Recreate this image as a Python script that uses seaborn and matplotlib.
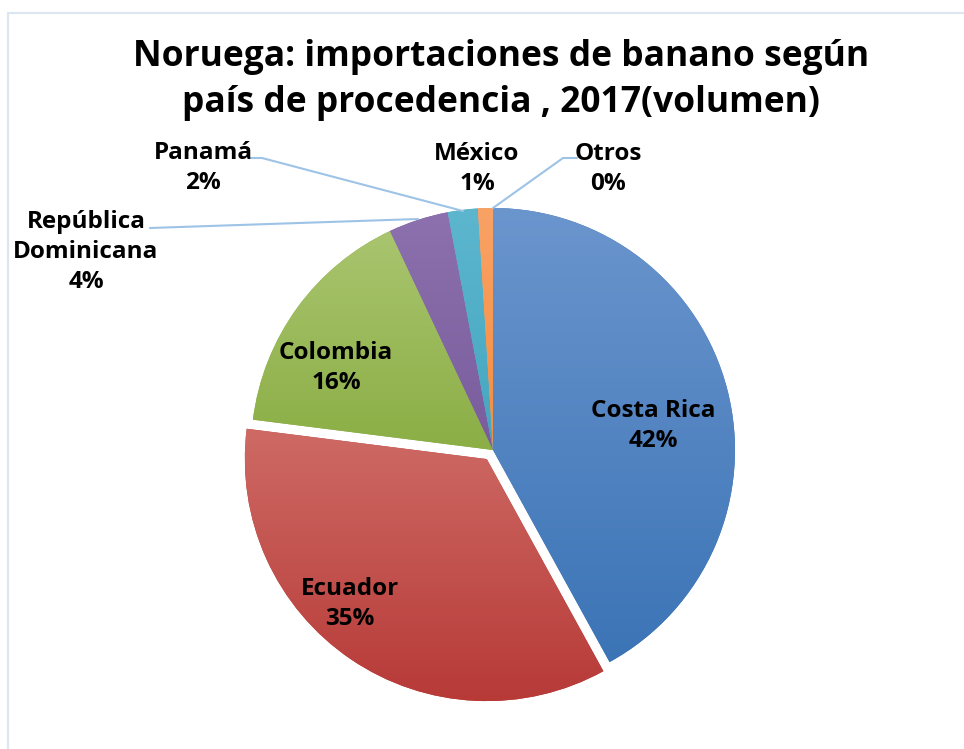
import numpy as np
import matplotlib
matplotlib.use("Agg")
import matplotlib.pyplot as plt
import seaborn as sns
from matplotlib.patches import Rectangle

sns.set_theme(style="white")
plt.rcParams['font.family'] = ['Open Sans', 'DejaVu Sans']

# data
paises = ["Costa Rica", "Ecuador", "Colombia", "República\nDominicana",
          "Panamá", "México", "Otros"]
porcentajes = [42, 35, 16, 4, 2, 1, 0]
colores_top = ["#6B95CD", "#CE6A65", "#A9C56F", "#8C71AE", "#5CB6CE", "#F9A266", "#2C4D75"]
colores_bot = ["#3B74B6", "#B73A37", "#8BAE45", "#7A5C9C", "#45A6C0", "#F58D3E", "#2C4D75"]

W, H = 964, 749
fig = plt.figure(figsize=(W / 100, H / 100), dpi=100)
ax = fig.add_axes([0, 0, 1, 1])
ax.set_xlim(0, W)
ax.set_ylim(0, H)
ax.axis("off")

def py(y):
    # pixel row (from top) -> axes y
    return H - y

# chart area border
ax.add_patch(Rectangle((8, py(760)), 980, 760 - 13, fill=False,
                       edgecolor="#DCE6F2", lw=1.5))

# explode is in data units here (center/radius given in pixels)
explode = [0, 11, 0, 0, 0, 0, 0]
wedges, _ = ax.pie(porcentajes, colors=colores_bot, startangle=90, counterclock=False,
                   center=(493, py(450)), radius=242, explode=explode,
                   wedgeprops=dict(linewidth=0))

# vertical gradient (lighter on top) like the original
for w, ct, cb in zip(wedges, colores_top, colores_bot):
    bb = w.get_path().get_extents(w.get_patch_transform())
    c1 = np.array(matplotlib.colors.to_rgb(ct))
    c2 = np.array(matplotlib.colors.to_rgb(cb))
    t = np.linspace(0, 1, 256)[:, None]
    img = (c1 * (1 - t) + c2 * t)[:, None, :]
    im = ax.imshow(img, extent=[bb.x0, bb.x1, bb.y0, bb.y1], origin="upper",
                   aspect="auto", zorder=w.get_zorder() + 0.1)
    im.set_clip_path(w)
ax.set_xlim(0, W)
ax.set_ylim(0, H)

kw = dict(ha="center", va="center", fontsize=17.5, fontweight="bold",
          color="black", linespacing=1.33)

# data labels
pos = {
    "Costa Rica": (653, 426),
    "Ecuador": (350, 604),
    "Colombia": (336, 368),
    "República\nDominicana": (86, 252),
    "Panamá": (203, 168),
    "México": (477, 169),
    "Otros": (608, 169),
}
for p, v in zip(paises, porcentajes):
    x, y = pos[p]
    ax.text(x, py(y), f"{p}\n{v}%", zorder=5, **kw)

# leader lines
lc = "#9DC3E6"
ax.plot([250, 262, 463], [py(158), py(158), py(211)], color=lc, lw=1.5, zorder=4)
ax.plot([150, 418], [py(228), py(219)], color=lc, lw=1.5, zorder=4)
ax.plot([577, 563, 493], [py(158), py(158), py(208)], color=lc, lw=1.5, zorder=4)

ax.text(501, py(80), "Noruega: importaciones de banano según\npaís de procedencia , 2017(volumen)",
        ha="center", va="center", fontsize=25.5, fontweight="bold", color="black",
        linespacing=1.4)

fig.savefig("out.png", dpi=100, facecolor="white")
